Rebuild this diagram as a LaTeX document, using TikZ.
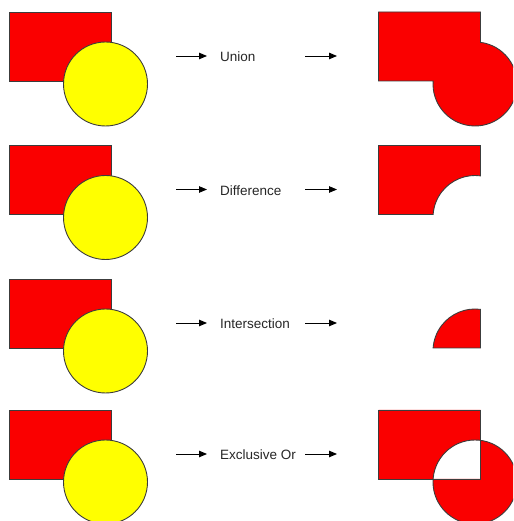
\documentclass[tikz,border=0pt]{standalone}
\usepackage{fontspec}
\setmainfont{Liberation Sans}
\usetikzlibrary{arrows.meta}
\definecolor{shapered}{RGB}{250,0,0}
\definecolor{shapeyellow}{RGB}{255,255,0}
\definecolor{edgegray}{RGB}{60,60,60}
\begin{document}
\begin{tikzpicture}[x=1pt,y=1pt,
  outl/.style={draw=edgegray,line width=0.9pt,line join=miter},
  redfill/.style={outl,fill=shapered},
  yelfill/.style={outl,fill=shapeyellow},
  arr/.style={draw=black,line width=0.9pt,-{Triangle[length=8pt,width=6.5pt]}},
  lbl/.style={inner sep=0pt,anchor=base west,text=black!85,font=\fontsize{13.5}{16}\selectfont}]
\useasboundingbox (0,0) rectangle (513,521);
\clip (0,0) rectangle (513,521);

% ---------- Row 1: Union ----------
\begin{scope}[shift={(105.5,437)}]
  \path[redfill] (-96.5,3) rectangle (5.5,72);
  \path[yelfill] (0,0) circle[radius=42];
\end{scope}
\begin{scope}[shift={(475,437)}]
  \path[redfill] (-96.5,72) -- (5.5,72) -- (5.5,41.64)
    arc[start angle=82.48,end angle=-184.1,radius=42] -- (-96.5,3) -- cycle;
\end{scope}
\coordinate (a1s) at (176,465); \coordinate (a1e) at (207,465);
\coordinate (b1s) at (305,465); \coordinate (b1e) at (337,465);
\draw[arr] (a1s) -- (a1e);
\node[lbl] (t1) at (220,459) {Union};
\draw[arr] (b1s) -- (b1e);

% ---------- Row 2: Difference ----------
\begin{scope}[shift={(105.5,303.5)}]
  \path[redfill] (-96.5,3) rectangle (5.5,72);
  \path[yelfill] (0,0) circle[radius=42];
\end{scope}
\begin{scope}[shift={(475,303.5)}]
  \path[redfill] (-96.5,72) -- (5.5,72) -- (5.5,41.64)
    arc[start angle=82.48,end angle=175.9,radius=42] -- (-96.5,3) -- cycle;
\end{scope}
\coordinate (a2s) at (176,331.5); \coordinate (a2e) at (207,331.5);
\coordinate (b2s) at (305,331.5); \coordinate (b2e) at (337,331.5);
\draw[arr] (a2s) -- (a2e);
\node[lbl] (t2) at (220,325.5) {Difference};
\draw[arr] (b2s) -- (b2e);

% ---------- Row 3: Intersection ----------
\begin{scope}[shift={(105.5,170)}]
  \path[redfill] (-96.5,3) rectangle (5.5,72);
  \path[yelfill] (0,0) circle[radius=42];
\end{scope}
\begin{scope}[shift={(475,170)}]
  \path[redfill] (5.5,41.64)
    arc[start angle=82.48,end angle=175.9,radius=42] -- (5.5,3) -- cycle;
\end{scope}
\coordinate (a3s) at (176,198); \coordinate (a3e) at (207,198);
\coordinate (b3s) at (305,198); \coordinate (b3e) at (337,198);
\draw[arr] (a3s) -- (a3e);
\node[lbl] (t3) at (220,192) {Intersection};
\draw[arr] (b3s) -- (b3e);

% ---------- Row 4: Exclusive Or ----------
\begin{scope}[shift={(105.5,39)}]
  \path[redfill] (-96.5,3) rectangle (5.5,72);
  \path[yelfill] (0,0) circle[radius=42];
\end{scope}
\begin{scope}[shift={(475,39)}]
  \path[fill=shapered,even odd rule] (-96.5,3) rectangle (5.5,72) (0,0) circle[radius=42];
  \path[outl] (-96.5,3) rectangle (5.5,72);
  \path[outl] (0,0) circle[radius=42];
\end{scope}
\coordinate (a4s) at (176,67); \coordinate (a4e) at (207,67);
\coordinate (b4s) at (305,67); \coordinate (b4e) at (337,67);
\draw[arr] (a4s) -- (a4e);
\node[lbl] (t4) at (220,61) {Exclusive Or};
\draw[arr] (b4s) -- (b4e);
\end{tikzpicture}
\end{document}
